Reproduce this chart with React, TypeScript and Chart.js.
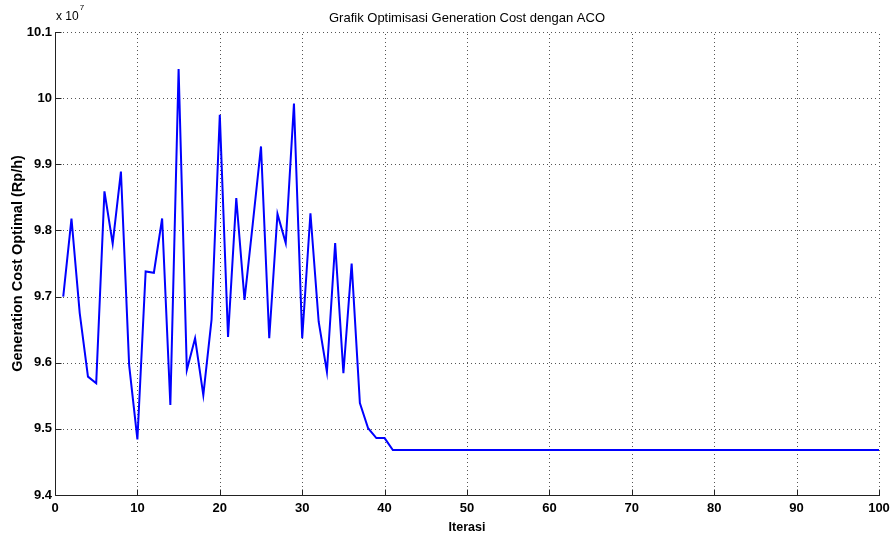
import React, { useEffect, useRef } from "react";
import { Chart, registerables } from "chart.js";

Chart.register(...registerables);

// Iterations (x) and optimal generation cost (y, in units of 10^7 Rp/h)
const iterations: number[] = Array.from({ length: 100 }, (_, i) => i + 1);
const costValues: number[] = [
  9.700, 9.818, 9.675, 9.579, 9.569, 9.859, 9.780, 9.889, 9.596, 9.484,
  9.738, 9.736, 9.818, 9.536, 10.044, 9.589, 9.637, 9.551, 9.665, 9.975,
  9.639, 9.849, 9.695, 9.810, 9.927, 9.637, 9.825, 9.781, 9.992, 9.637,
  9.826, 9.662, 9.586, 9.781, 9.584, 9.750, 9.539, 9.501, 9.486, 9.486,
  9.468, 9.468, 9.468, 9.468, 9.468, 9.468, 9.468, 9.468, 9.468, 9.468,
  9.468, 9.468, 9.468, 9.468, 9.468, 9.468, 9.468, 9.468, 9.468, 9.468,
  9.468, 9.468, 9.468, 9.468, 9.468, 9.468, 9.468, 9.468, 9.468, 9.468,
  9.468, 9.468, 9.468, 9.468, 9.468, 9.468, 9.468, 9.468, 9.468, 9.468,
  9.468, 9.468, 9.468, 9.468, 9.468, 9.468, 9.468, 9.468, 9.468, 9.468,
  9.468, 9.468, 9.468, 9.468, 9.468, 9.468, 9.468, 9.468, 9.468, 9.468,
];

const titleText = "Grafik Optimisasi Generation Cost dengan ACO";
const xTitle = "Iterasi";
const yTitle = "Generation Cost Optimal (Rp/h)";
const exponentBase = "x 10";
const exponentPower = "7";

const FONT = "'Liberation Sans', Arial, Helvetica, sans-serif";

const matlabPlugin = {
  id: "matlabAxes",
  beforeDatasetsDraw(chart: any) {
    const { ctx, chartArea, scales } = chart;
    const { left, right, top, bottom } = chartArea;
    const x = scales.x;
    const y = scales.y;
    ctx.save();
    ctx.strokeStyle = "#555";
    ctx.lineWidth = 1;
    ctx.setLineDash([1, 3]);
    x.ticks.forEach((t: any) => {
      if (Math.abs(t.value - x.min) < 1e-9) return;
      const px = Math.round(x.getPixelForValue(t.value)) + 0.5;
      ctx.beginPath();
      ctx.moveTo(px, bottom);
      ctx.lineTo(px, top);
      ctx.stroke();
    });
    y.ticks.forEach((t: any) => {
      if (Math.abs(t.value - y.min) < 1e-9) return;
      const py = Math.round(y.getPixelForValue(t.value)) + 0.5;
      ctx.beginPath();
      ctx.moveTo(left, py);
      ctx.lineTo(right, py);
      ctx.stroke();
    });
    ctx.restore();
  },
  afterDatasetsDraw(chart: any) {
    const { ctx, chartArea, scales } = chart;
    const { left, right, top, bottom } = chartArea;
    const x = scales.x;
    const y = scales.y;
    ctx.save();
    ctx.setLineDash([]);
    ctx.strokeStyle = "#222";
    ctx.lineWidth = 1;
    const l = Math.round(left) + 0.5;
    const b = Math.round(bottom) + 0.5;
    ctx.beginPath();
    ctx.moveTo(l, Math.round(top));
    ctx.lineTo(l, b);
    ctx.lineTo(Math.round(right) + 1, b);
    ctx.stroke();
    // inward ticks
    x.ticks.forEach((t: any) => {
      const px = Math.round(x.getPixelForValue(t.value)) + 0.5;
      ctx.beginPath();
      ctx.moveTo(px, b);
      ctx.lineTo(px, b - 6);
      ctx.stroke();
    });
    y.ticks.forEach((t: any) => {
      const py = Math.round(y.getPixelForValue(t.value)) + 0.5;
      ctx.beginPath();
      ctx.moveTo(l, py);
      ctx.lineTo(l + 6, py);
      ctx.stroke();
    });
    // texts
    ctx.fillStyle = "#000";
    const cx = (left + right) / 2;
    ctx.textAlign = "center";
    ctx.textBaseline = "alphabetic";
    ctx.font = `13px ${FONT}`;
    ctx.fillText(titleText, cx, 22);
    ctx.font = `bold 12.5px ${FONT}`;
    ctx.fillText(xTitle, cx, 531);
    ctx.save();
    ctx.translate(22, (top + bottom) / 2);
    ctx.rotate(-Math.PI / 2);
    ctx.font = `bold 14.5px ${FONT}`;
    ctx.fillText(yTitle, 0, 0);
    ctx.restore();
    ctx.textAlign = "left";
    ctx.font = `12px ${FONT}`;
    ctx.fillText(exponentBase, 56, 20);
    const w = ctx.measureText(exponentBase).width;
    ctx.font = `8px ${FONT}`;
    ctx.fillText(exponentPower, 56 + w + 1, 10);
    ctx.restore();
  },
};

export default function App() {
  const canvasRef = useRef<HTMLCanvasElement | null>(null);

  useEffect(() => {
    document.body.style.margin = "0";
    const canvas = canvasRef.current;
    if (!canvas) return;
    const chart = new Chart(canvas, {
      type: "line",
      data: {
        datasets: [
          {
            data: iterations.map((it, i) => ({ x: it, y: costValues[i] })),
            borderColor: "#0000ff",
            borderWidth: 2,
            pointRadius: 0,
            tension: 0,
            fill: false,
          },
        ],
      },
      options: {
        responsive: false,
        animation: false,
        devicePixelRatio: 1,
        layout: { padding: { left: 0, right: 11, top: 32, bottom: 0 } },
        plugins: {
          legend: { display: false },
          title: { display: false },
          tooltip: { enabled: false },
        },
        scales: {
          x: {
            type: "linear",
            min: 0,
            max: 100,
            grid: { display: false, drawTicks: false },
            border: { display: false },
            ticks: {
              stepSize: 10,
              padding: 6,
              color: "#000",
              font: { family: FONT, size: 13, weight: "bold" },
              maxRotation: 0,
            },
            afterFit(scale: any) {
              scale.height = 41;
              scale.paddingLeft = 0;
              scale.paddingRight = 0;
            },
          },
          y: {
            type: "linear",
            min: 9.4,
            max: 10.1,
            grid: { display: false, drawTicks: false },
            border: { display: false },
            ticks: {
              stepSize: 0.1,
              padding: 3,
              color: "#000",
              font: { family: FONT, size: 13, weight: "bold" },
              callback: (v: any) => String(Number(Number(v).toFixed(1))),
            },
            afterFit(scale: any) {
              scale.width = 55;
              scale.paddingTop = 0;
              scale.paddingBottom = 0;
            },
          },
        },
      },
      plugins: [matlabPlugin],
    } as any);
    return () => chart.destroy();
  }, []);

  return (
    <div style={{ width: 890, height: 536, background: "#fff" }}>
      <canvas ref={canvasRef} width={890} height={536} style={{ display: "block" }} />
    </div>
  );
}
